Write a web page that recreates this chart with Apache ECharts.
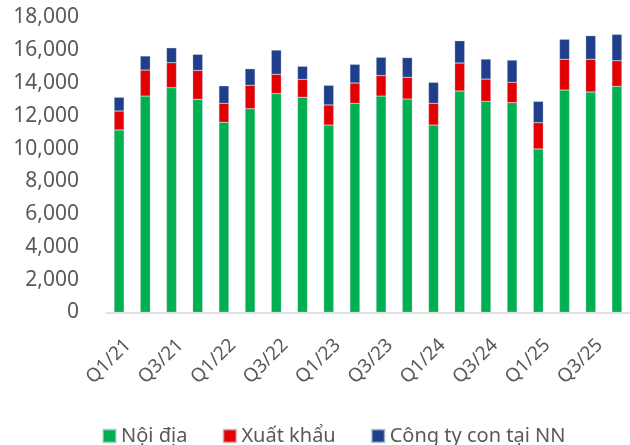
<!DOCTYPE html>
<html style="height:100%;">
<head>
  <meta charset="utf-8">
  <script src="https://cdn.jsdelivr.net/npm/echarts@6/dist/echarts.min.js"></script>
  <style>
    body { margin: 0; background: #fff; }
    #chart { width: 630px; height: 445px; }
  </style>
</head>
<body>
  <div id="chart"></div>
  <script>
    // quý
    var quarters = ['Q1/21', 'Q2/21', 'Q3/21', 'Q4/21', 'Q1/22', 'Q2/22', 'Q3/22', 'Q4/22',
      'Q1/23', 'Q2/23', 'Q3/23', 'Q4/23', 'Q1/24', 'Q2/24', 'Q3/24', 'Q4/24',
      'Q1/25', 'Q2/25', 'Q3/25', 'Q4/25'];
    var noiDia = [11130, 13200, 13710, 13000, 11600, 12430, 13350, 13130,
      11430, 12760, 13200, 13020, 11430, 13510, 12880, 12800,
      9970, 13570, 13450, 13800];
    var xuatKhau = [1160, 1590, 1530, 1770, 1160, 1430, 1180, 1090,
      1230, 1240, 1250, 1330, 1330, 1710, 1360, 1240,
      1610, 1880, 2000, 1560];
    var congTyCon = [840, 860, 910, 980, 1070, 1010, 1480, 800,
      1200, 1140, 1120, 1200, 1280, 1360, 1220, 1360,
      1300, 1220, 1440, 1610];
    var yTicks = [0, 18000, 2000]; // min, max, bước

    var chart = echarts.init(document.getElementById('chart'));
    var font = '"Noto Sans", sans-serif';

    function bar(name, data, color) {
      return {
        name: name,
        type: 'bar',
        stack: 'total',
        data: data,
        barWidth: 10,
        itemStyle: { color: color, borderColor: 'rgba(200,210,220,0.6)', borderWidth: 0.5 },
        emphasis: { disabled: true }
      };
    }

    chart.setOption({
      animation: false,
      backgroundColor: '#fff',
      grid: { left: 106, right: 0, top: 17.5, bottom: 132.7, containLabel: false },
      legend: {
        top: 421,
        left: 97,
        itemWidth: 13,
        itemHeight: 13,
        itemGap: 35,
        icon: 'rect',
        textStyle: { fontFamily: font, fontSize: 20, color: '#595959' },
        data: ['Nội địa', 'Xuất khẩu', 'Công ty con tại NN']
      },
      xAxis: {
        type: 'category',
        data: quarters,
        axisLine: { lineStyle: { color: '#D9D9D9', width: 1.5 } },
        axisTick: { show: false },
        axisLabel: {
          interval: 1,
          rotate: 45,
          margin: 21,
          verticalAlign: 'top',
          padding: [3, 0, 0, 0],
          fontFamily: font,
          fontSize: 19,
          color: '#595959'
        }
      },
      yAxis: {
        type: 'value',
        min: yTicks[0],
        max: yTicks[1],
        interval: yTicks[2],
        splitLine: { show: false },
        axisLine: { show: false },
        axisTick: { show: false },
        axisLabel: {
          margin: 27,
          fontFamily: font,
          fontSize: 21,
          color: '#595959',
          formatter: function (v) { return v.toLocaleString('en-US'); }
        }
      },
      series: [
        bar('Nội địa', noiDia, '#00B050'),
        bar('Xuất khẩu', xuatKhau, '#E30000'),
        bar('Công ty con tại NN', congTyCon, '#1F3F8C')
      ]
    });
  </script>
</body>
</html>
